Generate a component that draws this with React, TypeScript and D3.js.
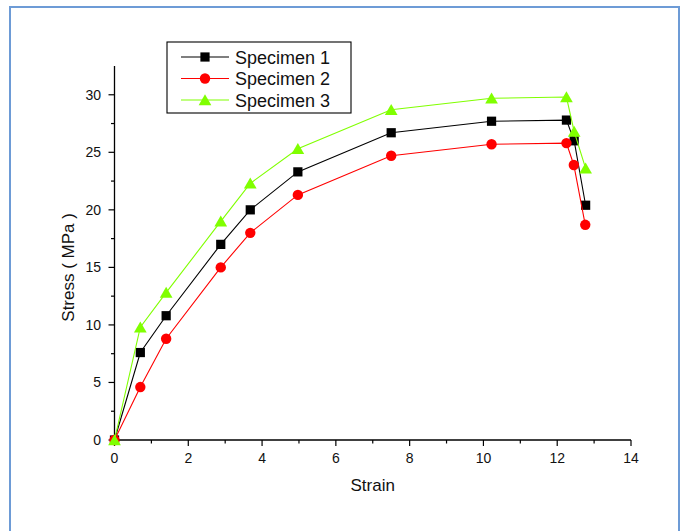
import React from "react";
import { scaleLinear, line, range, symbol, symbolSquare, symbolCircle, symbolTriangle } from "d3";

const strain1 = [0, 0.7, 1.4, 2.88, 3.68, 4.97, 7.5, 10.22, 12.25, 12.46, 12.77];
const stress1 = [0, 7.6, 10.8, 17, 20, 23.3, 26.7, 27.7, 27.8, 26, 20.4];
const strain2 = [0, 0.7, 1.4, 2.88, 3.68, 4.97, 7.5, 10.22, 12.25, 12.45, 12.76];
const stress2 = [0, 4.6, 8.8, 15, 18, 21.3, 24.7, 25.7, 25.8, 23.9, 18.7];
const strain3 = [0, 0.7, 1.4, 2.88, 3.68, 4.97, 7.5, 10.22, 12.25, 12.46, 12.77];
const stress3 = [0, 9.8, 12.8, 19, 22.3, 25.3, 28.7, 29.7, 29.8, 26.8, 23.6];

const seriesNames = ["Specimen 1", "Specimen 2", "Specimen 3"];
const xTicks = [0, 2, 4, 6, 8, 10, 12, 14];
const yTicks = [0, 5, 10, 15, 20, 25, 30];

const colors = ["#000000", "#ff0000", "#80ff00"];
const shapes = [symbolSquare, symbolCircle, symbolTriangle];
const sizes = [85, 85, 70];

const W = 686;
const H = 531;
const margin = { left: 114.5, right: 55, top: 66, bottom: 91 };

export default function App() {
  const x = scaleLinear().domain([0, 14]).range([margin.left, W - margin.right]);
  const y = scaleLinear().domain([0, 32.5]).range([H - margin.bottom, margin.top]);

  const series = [
    strain1.map((s, i) => [s, stress1[i]]),
    strain2.map((s, i) => [s, stress2[i]]),
    strain3.map((s, i) => [s, stress3[i]]),
  ];

  const path = line<number[]>()
    .x((d) => x(d[0]))
    .y((d) => y(d[1]));

  const font = "Arial, 'Liberation Sans', sans-serif";
  const y0 = y(0);
  const x0 = x(0);
  const frame = "#6d9bd6";

  return (
    <div style={{ position: "absolute", left: 0, top: 0, width: W, height: H, overflow: "hidden" }}>
      <svg width={W} height={H} style={{ display: "block", background: "#fff" }}>
        {/* blue frame */}
        <line x1={10} x2={680} y1={7} y2={7} stroke={frame} strokeWidth={2} />
        <line x1={10} x2={10} y1={6} y2={H} stroke={frame} strokeWidth={2} />
        <line x1={679} x2={679} y1={6} y2={H} stroke={frame} strokeWidth={2} />

        {/* x axis */}
        <line x1={x0} x2={x(14)} y1={y0} y2={y0} stroke="#000" strokeWidth={1.3} />
        {range(0, 15).map((t) => (
          <line
            key={"xt" + t}
            x1={x(t)}
            x2={x(t)}
            y1={y0}
            y2={y0 + (t % 2 === 0 ? 6 : 3.5)}
            stroke="#000"
            strokeWidth={1.2}
          />
        ))}
        {xTicks.map((t) => (
          <text key={"xl" + t} x={x(t)} y={y0 + 23} textAnchor="middle" fontSize={14} fontFamily={font} fill="#111">
            {t}
          </text>
        ))}
        <text x={(x(0) + x(14)) / 2} y={491} textAnchor="middle" fontSize={17} fontFamily={font} fill="#111">
          Strain
        </text>

        {/* y axis */}
        <line x1={x0} x2={x0} y1={y0} y2={y(32.5)} stroke="#000" strokeWidth={1.3} />
        {range(0, 13).map((i) => (
          <line
            key={"yt" + i}
            x1={x0}
            x2={x0 - (i % 2 === 0 ? 6 : 3.5)}
            y1={y(i * 2.5)}
            y2={y(i * 2.5)}
            stroke="#000"
            strokeWidth={1.2}
          />
        ))}
        {yTicks.map((t) => (
          <text key={"yl" + t} x={101} y={y(t) + 5} textAnchor="end" fontSize={14} fontFamily={font} fill="#111">
            {t}
          </text>
        ))}
        <text
          transform={`translate(74, ${(y(0) + y(30)) / 2}) rotate(-90)`}
          textAnchor="middle"
          fontSize={17}
          fontFamily={font}
          fill="#111"
        >
          Stress ( MPa )
        </text>

        {/* series */}
        {series.map((pts, si) => (
          <g key={"s" + si}>
            <path d={path(pts) || ""} fill="none" stroke={colors[si]} strokeWidth={1.1} />
            {pts.map((d, i) => (
              <path
                key={i}
                d={symbol(shapes[si], sizes[si])() || ""}
                transform={`translate(${x(d[0])},${y(d[1]) + (si === 2 ? 1.5 : 0)})`}
                fill={colors[si]}
              />
            ))}
          </g>
        ))}

        {/* legend */}
        <rect x={167} y={42} width={184} height={71} fill="#fff" stroke="#000" strokeWidth={1.1} />
        {seriesNames.map((name, i) => {
          const ly = 57 + i * 21.5;
          return (
            <g key={name}>
              <line x1={181} x2={229} y1={ly} y2={ly} stroke={colors[i]} strokeWidth={1.1} />
              <path
                d={symbol(shapes[i], sizes[i])() || ""}
                transform={`translate(205,${ly + (i === 2 ? 1.5 : 0)})`}
                fill={colors[i]}
              />
              <text x={235} y={ly + 6.5} fontSize={18} fontFamily={font} fill="#111">
                {name}
              </text>
            </g>
          );
        })}
      </svg>
    </div>
  );
}
